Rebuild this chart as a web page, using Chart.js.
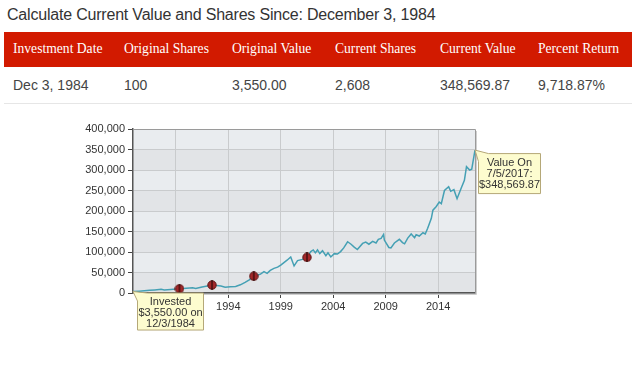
<!DOCTYPE html>
<html>
<head>
<meta charset="utf-8">
<script src="https://cdn.jsdelivr.net/npm/chart.js@4/dist/chart.umd.min.js"></script>
<style>
  body { margin: 0; width: 640px; height: 366px; background: #fff; position: relative; overflow: hidden; font-family: "Liberation Sans", Arial, sans-serif; }
  .title { position: absolute; left: 7px; top: 6px; font-size: 16px; letter-spacing: -0.2px; color: #333; white-space: nowrap; }
  .head { position: absolute; left: 4px; top: 32px; width: 628px; height: 35px; background: #d21a00; }
  .cell { position: absolute; white-space: nowrap; }
  .head .cell { top: 9px; font-family: "Liberation Serif", "Times New Roman", serif; font-size: 13.6px; color: #fff; }
  .row { position: absolute; left: 4px; top: 67px; width: 628px; height: 36px; border-bottom: 1px solid #e6e6e6; }
  .row .cell { top: 10px; font-size: 14px; color: #444; }
  #wrap { position: absolute; left: 0; top: 110px; width: 640px; height: 256px; }
</style>
</head>
<body>
<div class="title">Calculate Current Value and Shares Since: December 3, 1984</div>
<div class="head" id="head"></div>
<div class="row" id="row"></div>
<div id="wrap"><canvas id="chart"></canvas></div>
<script>
const headers = ['Investment Date', 'Original Shares', 'Original Value', 'Current Shares', 'Current Value', 'Percent Return'];
const rowValues = ['Dec 3, 1984', '100', '3,550.00', '2,608', '348,569.87', '9,718.87%'];
const colX = [9, 120, 228, 331, 436, 534];

headers.forEach((h, i) => {
    const d = document.createElement('div');
    d.className = 'cell'; d.style.left = colX[i] + 'px'; d.textContent = h;
    document.getElementById('head').appendChild(d);
    const r = document.createElement('div');
    r.className = 'cell'; r.style.left = colX[i] + 'px'; r.textContent = rowValues[i];
    document.getElementById('row').appendChild(r);
});

// value of the investment over time (decimal years)
const years = [1984.92, 1985.5, 1986.0, 1986.5, 1987.0, 1987.6, 1987.9, 1988.5, 1989.0, 1989.35,
    1990.0, 1990.6, 1990.9, 1991.5, 1992.0, 1992.45, 1992.9, 1993.3, 1993.7, 1994.2,
    1994.7, 1995.15, 1995.6, 1996.0, 1996.43, 1996.8, 1997.07, 1997.4, 1997.7, 1998.0,
    1998.35, 1998.7, 1999.0, 1999.3, 1999.6, 1999.95, 2000.27, 2000.6, 2001.06, 2001.5,
    2001.86, 2002.1, 2002.3, 2002.5, 2002.72, 2002.98, 2003.3, 2003.5, 2003.77, 2004.1,
    2004.4, 2004.7, 2005.0, 2005.37, 2005.7, 2006.0, 2006.3, 2006.8, 2007.1, 2007.4,
    2007.76, 2008.08, 2008.3, 2008.56, 2008.8, 2008.87, 2009.3, 2009.5, 2009.83, 2010.3,
    2010.6, 2010.8, 2011.1, 2011.43, 2011.75, 2011.9, 2012.2, 2012.55, 2012.77, 2013.0,
    2013.35, 2013.5, 2013.82, 2014.1, 2014.3, 2014.6, 2015.0, 2015.2, 2015.5, 2015.8,
    2016.2, 2016.5, 2016.7, 2017.0, 2017.2, 2017.51];
const values = [3550, 4500, 5500, 6500, 7500, 9000, 7500, 8500, 9500, 10500,
    11500, 12500, 11000, 14500, 17000, 19500, 18000, 17000, 14000, 15500,
    16000, 20000, 26000, 32000, 41000, 44000, 46000, 52000, 48000, 55000,
    60000, 63000, 68000, 74000, 80000, 88000, 66000, 79000, 82000, 87000,
    101000, 105000, 98000, 105000, 96000, 103000, 91000, 98000, 88000, 96000,
    95000, 101000, 110000, 125000, 119000, 112000, 106000, 121000, 124000, 119000,
    126000, 122000, 131000, 133000, 143000, 129000, 111000, 110000, 122000, 131000,
    123000, 120000, 134000, 144000, 135000, 142000, 139000, 147000, 144000, 158000,
    182000, 202000, 211000, 222000, 218000, 250000, 259000, 248000, 252000, 230000,
    256000, 275000, 308000, 300000, 302000, 348569.87];

// split events
const splitYears = [1989.35, 1992.45, 1996.43, 2001.5];
const splitValues = [10500, 19500, 41000, 87000];

const xTicks = [1989, 1994, 1999, 2004, 2009, 2014];
const yTicks = [0, 50000, 100000, 150000, 200000, 250000, 300000, 350000, 400000];

const startLabel = ['Invested', '$3,550.00 on', '12/3/1984'];
const endLabel = ['Value On', '7/5/2017:', '$348,569.87'];

function splitIcon() {
    const c = document.createElement('canvas');
    c.width = 10; c.height = 10;
    const g = c.getContext('2d');
    g.beginPath(); g.arc(5, 5, 4.2, 0, Math.PI * 2);
    g.fillStyle = '#a3282a'; g.fill();
    g.strokeStyle = '#5a1212'; g.lineWidth = 1; g.stroke();
    g.beginPath(); g.moveTo(5, 0); g.lineTo(5, 10);
    g.strokeStyle = '#2a0808'; g.lineWidth = 1.2; g.stroke();
    return c;
}

const bands = {
    id: 'bands',
    beforeDraw(chart) {
        const { ctx, chartArea: a, scales: { y } } = chart;
        ctx.save();
        for (let i = 0; i < yTicks.length - 1; i++) {
            const t = y.getPixelForValue(yTicks[i + 1]);
            const b = y.getPixelForValue(yTicks[i]);
            ctx.fillStyle = i % 2 ? '#e9ecef' : '#e2e4e7';
            ctx.fillRect(a.left, t, a.right - a.left, b - t);
        }
        ctx.restore();
    },
    afterDatasetsDraw(chart) {
        const { ctx, chartArea: a } = chart;
        ctx.save();
        ctx.strokeStyle = '#9a9a9a'; ctx.lineWidth = 1;
        ctx.beginPath();
        ctx.moveTo(a.left, a.top + 0.5); ctx.lineTo(a.right + 0.5, a.top + 0.5); ctx.lineTo(a.right + 0.5, a.bottom);
        ctx.stroke();
        ctx.strokeStyle = '#cfcfcf';
        ctx.beginPath(); ctx.moveTo(a.right + 1.5, a.top + 2); ctx.lineTo(a.right + 1.5, a.bottom + 1.5); ctx.lineTo(a.left + 2, a.bottom + 1.5); ctx.stroke();
        ctx.restore();
    }
};

function callout(ctx, px, py, bx, by, bw, bh, lines) {
    ctx.save();
    ctx.beginPath();
    ctx.moveTo(px, py);
    ctx.lineTo(bx + 10, by);
    ctx.lineTo(bx + bw, by);
    ctx.lineTo(bx + bw, by + bh);
    ctx.lineTo(bx, by + bh);
    ctx.lineTo(bx, by + 8);
    ctx.closePath();
    ctx.fillStyle = '#fdfccf';
    ctx.fill();
    ctx.strokeStyle = '#b5a878';
    ctx.lineWidth = 1;
    ctx.stroke();
    ctx.fillStyle = '#333';
    ctx.font = '11px "Liberation Sans", Arial, sans-serif';
    ctx.textAlign = 'center';
    ctx.textBaseline = 'middle';
    lines.forEach((l, i) => ctx.fillText(l, bx + bw / 2, by + 9 + i * 11));
    ctx.restore();
}

const notes = {
    id: 'notes',
    afterDraw(chart) {
        const { ctx, scales: { x, y } } = chart;
        const sx = x.getPixelForValue(years[0]), sy = y.getPixelForValue(values[0]);
        callout(ctx, sx, sy, sx + 4.5, sy + 1.5, 66, 37, startLabel);
        const n = years.length - 1;
        const ex = x.getPixelForValue(years[n]), ey = y.getPixelForValue(values[n]);
        callout(ctx, ex, ey, ex + 3.5, ey + 3.5, 62, 40, endLabel);
    }
};

new Chart(document.getElementById('chart'), {
    type: 'scatter',
    data: {
        datasets: [
            {
                data: splitYears.map((v, i) => ({ x: v, y: splitValues[i] })),
                pointStyle: splitIcon(),
                pointRadius: 5,
                order: 0
            },
            {
                type: 'line',
                data: years.map((v, i) => ({ x: v, y: values[i] })),
                borderColor: '#45a0b4',
                borderWidth: 1.5,
                pointRadius: 0,
                tension: 0,
                order: 1
            }
        ]
    },
    options: {
        responsive: true,
        maintainAspectRatio: false,
        animation: false,
        events: [],
        layout: { padding: { left: 0, top: 19, right: 165, bottom: 0 } },
        plugins: { legend: { display: false }, tooltip: { enabled: false } },
        scales: {
            x: {
                type: 'linear',
                min: 1984.92,
                max: 2017.51,
                afterBuildTicks: (s) => { s.ticks = xTicks.map(v => ({ value: v })); },
                afterFit: (s) => { s.height = 73; },
                grid: { color: '#c9cbcd', tickColor: '#444', tickLength: 5 },
                border: { color: '#555', width: 1.5 },
                ticks: { color: '#333', font: { size: 11, family: '"Liberation Sans", Arial' }, padding: 2, callback: v => String(v), maxRotation: 0 }
            },
            y: {
                min: 0,
                max: 400000,
                afterBuildTicks: (s) => { s.ticks = yTicks.map(v => ({ value: v })); },
                afterFit: (s) => { s.width = 133; },
                grid: { color: '#c9cbcd', tickColor: '#444', tickLength: 5 },
                border: { color: '#555', width: 1.5 },
                ticks: { color: '#333', font: { size: 11, family: '"Liberation Sans", Arial' }, padding: 3, callback: v => v.toLocaleString('en-US') }
            }
        }
    },
    plugins: [bands, notes]
});
</script>
</body>
</html>
